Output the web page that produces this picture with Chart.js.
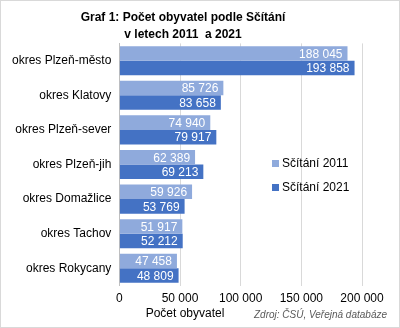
<!DOCTYPE html>
<html>
<head>
<meta charset="utf-8">
<script src="https://cdn.jsdelivr.net/npm/chart.js@4"></script>
<style>
  body { margin: 0; background: #fff; }
  #wrap { width: 400px; height: 328px; box-sizing: border-box; border: 1px solid #d9d9d9; }
</style>
</head>
<body>
<div id="wrap"><canvas id="chart"></canvas></div>
<script>
const categories = ["okres Plzeň-město", "okres Klatovy", "okres Plzeň-sever", "okres Plzeň-jih", "okres Domažlice", "okres Tachov", "okres Rokycany"];
const census2011 = [188045, 85726, 74940, 62389, 59926, 51917, 47458];
const census2021 = [193858, 83658, 79917, 69213, 53769, 52212, 48809];
const seriesNames = ["Sčítání 2011", "Sčítání 2021"];

const fmt = (v) => String(v).replace(/\B(?=(\d{3})+(?!\d))/g, " ");
const FONT = "'Liberation Sans', Arial, sans-serif";

const extrasPlugin = {
    id: "extras",
    afterDatasetsDraw(chart) {
        const ctx = chart.ctx;
        ctx.save();
        ctx.font = "12px " + FONT;
        ctx.fillStyle = "#fff";
        ctx.textAlign = "right";
        ctx.textBaseline = "middle";
        chart.data.datasets.forEach((ds, i) => {
            chart.getDatasetMeta(i).data.forEach((bar, j) => {
                ctx.fillText(fmt(ds.data[j]), bar.x - 5, bar.y + 1);
            });
        });
        ctx.restore();
    },
    afterDraw(chart) {
        const ctx = chart.ctx;
        ctx.save();
        // legend inside plot
        ctx.font = "12px " + FONT;
        ctx.textBaseline = "middle";
        ctx.textAlign = "left";
        chart.data.datasets.forEach((ds, i) => {
            const y = 162 + i * 24;
            ctx.fillStyle = ds.backgroundColor;
            ctx.fillRect(271, y - 3, 7, 7);
            ctx.fillStyle = "#000";
            ctx.fillText(ds.label, 281, y + 1);
        });
        // axis title and source
        ctx.fillStyle = "#000";
        ctx.textAlign = "center";
        ctx.fillText("Počet obyvatel", 184, 313);
        ctx.font = "italic 10px " + FONT;
        ctx.fillStyle = "#595959";
        ctx.textAlign = "right";
        ctx.fillText("Zdroj: ČSÚ, Veřejná databáze", 386, 314);
        ctx.restore();
    }
};

new Chart(document.getElementById("chart"), {
    type: "bar",
    data: {
        labels: categories,
        datasets: [
            { label: seriesNames[0], data: census2011, backgroundColor: "#8faadc" },
            { label: seriesNames[1], data: census2021, backgroundColor: "#4472c4" },
        ],
    },
    options: {
        indexAxis: "y",
        responsive: true,
        maintainAspectRatio: false,
        animation: false,
        categoryPercentage: 0.84,
        barPercentage: 1,
        layout: { padding: { left: 3, right: 37, top: 0, bottom: 15 } },
        plugins: {
            legend: { display: false },
            tooltip: { enabled: false },
            title: {
                display: true,
                text: ["Graf 1: Počet obyvatel podle Sčítání", "v letech 2011  a 2021"],
                color: "#000",
                font: { family: FONT, size: 12, weight: "bold", lineHeight: 1.35 },
                padding: { top: 9, bottom: 1 },
            },
        },
        scales: {
            x: {
                min: 0,
                max: 200000,
                ticks: {
                    stepSize: 50000,
                    color: "#000",
                    font: { family: FONT, size: 12 },
                    padding: 6,
                    callback: (v) => fmt(v),
                },
                grid: { color: "#d9d9d9", drawTicks: false },
                border: { display: false },
            },
            y: {
                ticks: { color: "#000", font: { family: FONT, size: 12 }, padding: 8 },
                grid: { display: false, drawTicks: false },
                border: { display: true, color: "#bfbfbf" },
            },
        },
    },
    plugins: [extrasPlugin],
});
</script>
</body>
</html>
